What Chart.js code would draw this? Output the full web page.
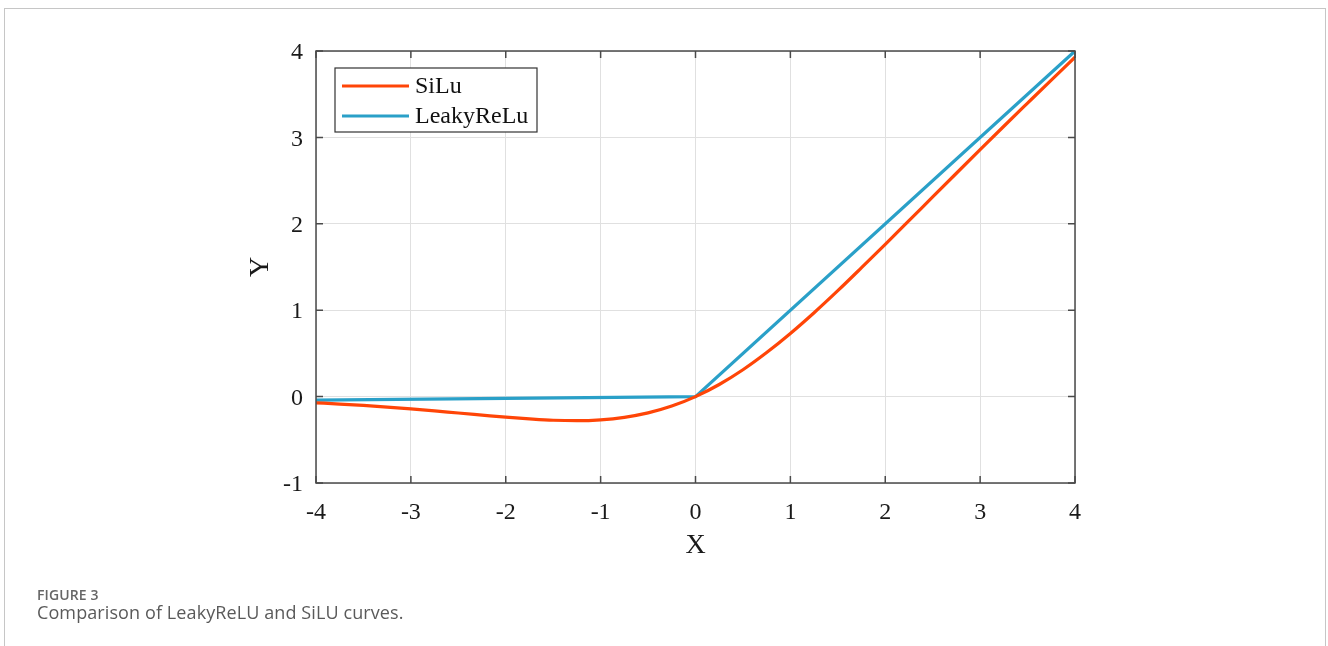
<!DOCTYPE html>
<html>
<head>
<meta charset="utf-8">
<script src="https://cdn.jsdelivr.net/npm/chart.js@4"></script>
<style>
    html, body { margin: 0; padding: 0; background: #fff; }
    body { width: 1328px; height: 646px; position: relative; overflow: hidden; }
    #card { position: absolute; left: 4px; top: 8px; width: 1320px; height: 700px; border: 1px solid #c6c6c6; }
    #chart { position: absolute; left: 0; top: 0; }
    .cap { position: absolute; left: 37px; font-family: "Open Sans", sans-serif; line-height: 1; white-space: nowrap; }
    #figno { top: 588px; font-size: 14px; font-weight: 600; letter-spacing: 0.1px; color: #666; }
    #figtext { top: 603px; font-size: 18px; letter-spacing: 0.1px; color: #5a5a5a; }
</style>
</head>
<body>
<div id="card"></div>
<canvas id="chart" width="1328" height="646"></canvas>
<div class="cap" id="figno">FIGURE 3</div>
<div class="cap" id="figtext">Comparison of LeakyReLU and SiLU curves.</div>
<script>
// values
const siluX = [-4, -3.75, -3.5, -3.25, -3, -2.75, -2.5, -2.25, -2, -1.75, -1.5, -1.25, -1, -0.75, -0.5, -0.25,
    0, 0.25, 0.5, 0.75, 1, 1.25, 1.5, 1.75, 2, 2.25, 2.5, 2.75, 3, 3.25, 3.5, 3.75, 4];
const siluY = [-0.072, -0.086, -0.102, -0.121, -0.142, -0.165, -0.190, -0.214, -0.238, -0.258, -0.274, -0.279, -0.269, -0.240, -0.189, -0.110,
    0, 0.140, 0.311, 0.510, 0.731, 0.971, 1.226, 1.492, 1.762, 2.036, 2.311, 2.585, 2.858, 3.129, 3.397, 3.664, 3.928];
const leakyX = [-4, 0, 4];
const leakyY = [-0.04, 0, 4];
const xTicks = [-4, -3, -2, -1, 0, 1, 2, 3, 4];
const yTicks = [-1, 0, 1, 2, 3, 4];

const serif = '"Liberation Serif", "Times New Roman", serif';
const frameColor = '#4a4a4a';

// matlab style box: frame, inward ticks on all four sides, legend inside
const boxPlugin = {
    id: 'box',
    afterDatasetsDraw(chart) {
        const { ctx, chartArea: a, scales: { x, y } } = chart;
        ctx.save();
        ctx.strokeStyle = frameColor;
        ctx.lineWidth = 1.5;
        ctx.beginPath();
        xTicks.forEach(v => {
            const px = x.getPixelForValue(v);
            ctx.moveTo(px, a.bottom); ctx.lineTo(px, a.bottom - 7);
            ctx.moveTo(px, a.top); ctx.lineTo(px, a.top + 7);
        });
        yTicks.forEach(v => {
            const py = y.getPixelForValue(v);
            ctx.moveTo(a.left, py); ctx.lineTo(a.left + 7, py);
            ctx.moveTo(a.right, py); ctx.lineTo(a.right - 7, py);
        });
        ctx.stroke();
        ctx.strokeRect(a.left, a.top, a.right - a.left, a.bottom - a.top);

        // legend
        const lx = 335, ly = 68, lw = 202, lh = 64;
        ctx.fillStyle = '#fff';
        ctx.fillRect(lx, ly, lw, lh);
        ctx.lineWidth = 1.2;
        ctx.strokeStyle = '#333';
        ctx.strokeRect(lx, ly, lw, lh);
        ctx.font = '24px ' + serif;
        ctx.textBaseline = 'middle';
        chart.data.datasets.forEach((ds, i) => {
            const rowY = ly + 18 + i * 30;
            ctx.strokeStyle = ds.borderColor;
            ctx.lineWidth = 3;
            ctx.beginPath();
            ctx.moveTo(lx + 7, rowY);
            ctx.lineTo(lx + 74, rowY);
            ctx.stroke();
            ctx.fillStyle = '#111';
            ctx.fillText(ds.label, lx + 80, rowY + 1);
        });
        ctx.restore();
    }
};

const ctx = document.getElementById('chart').getContext('2d');
const chart = new Chart(ctx, {
    type: 'scatter',
    data: {
        datasets: [
            {
                label: 'SiLu',
                data: siluX.map((v, i) => ({ x: v, y: siluY[i] })),
                showLine: true,
                borderColor: '#ff4507',
                borderWidth: 3.2,
                pointRadius: 0,
                cubicInterpolationMode: 'monotone'
            },
            {
                label: 'LeakyReLu',
                data: leakyX.map((v, i) => ({ x: v, y: leakyY[i] })),
                showLine: true,
                borderColor: '#2aa0c8',
                borderWidth: 3.2,
                pointRadius: 0
            }
        ]
    },
    options: {
        responsive: false,
        animation: false,
        layout: { padding: { top: 51, right: 253, left: 244, bottom: 76 } },
        plugins: { legend: { display: false }, tooltip: { enabled: false } },
        scales: {
            x: {
                type: 'linear',
                min: -4,
                max: 4,
                afterBuildTicks: axis => { axis.ticks = xTicks.map(v => ({ value: v })); },
                afterFit: axis => { axis.height = 87; },
                grid: { color: '#e0e0e0', lineWidth: 1, drawTicks: false },
                border: { display: false },
                ticks: { padding: 15, color: '#1a1a1a', font: { family: serif, size: 24 } },
                title: {
                    display: true,
                    text: 'X',
                    color: '#1a1a1a',
                    font: { family: serif, size: 28 },
                    padding: { top: 0, bottom: 8 }
                }
            },
            y: {
                type: 'linear',
                min: -1,
                max: 4,
                afterBuildTicks: axis => { axis.ticks = yTicks.map(v => ({ value: v })); },
                afterFit: axis => { axis.width = 72; },
                grid: { color: '#e0e0e0', lineWidth: 1, drawTicks: false },
                border: { display: false },
                ticks: { padding: 13, labelOffset: 2, color: '#1a1a1a', font: { family: serif, size: 24 } },
                title: {
                    display: true,
                    text: 'Y',
                    color: '#1a1a1a',
                    font: { family: serif, size: 28 },
                    padding: { top: 0, bottom: 0 }
                }
            }
        }
    },
    plugins: [boxPlugin]
});
</script>
</body>
</html>
